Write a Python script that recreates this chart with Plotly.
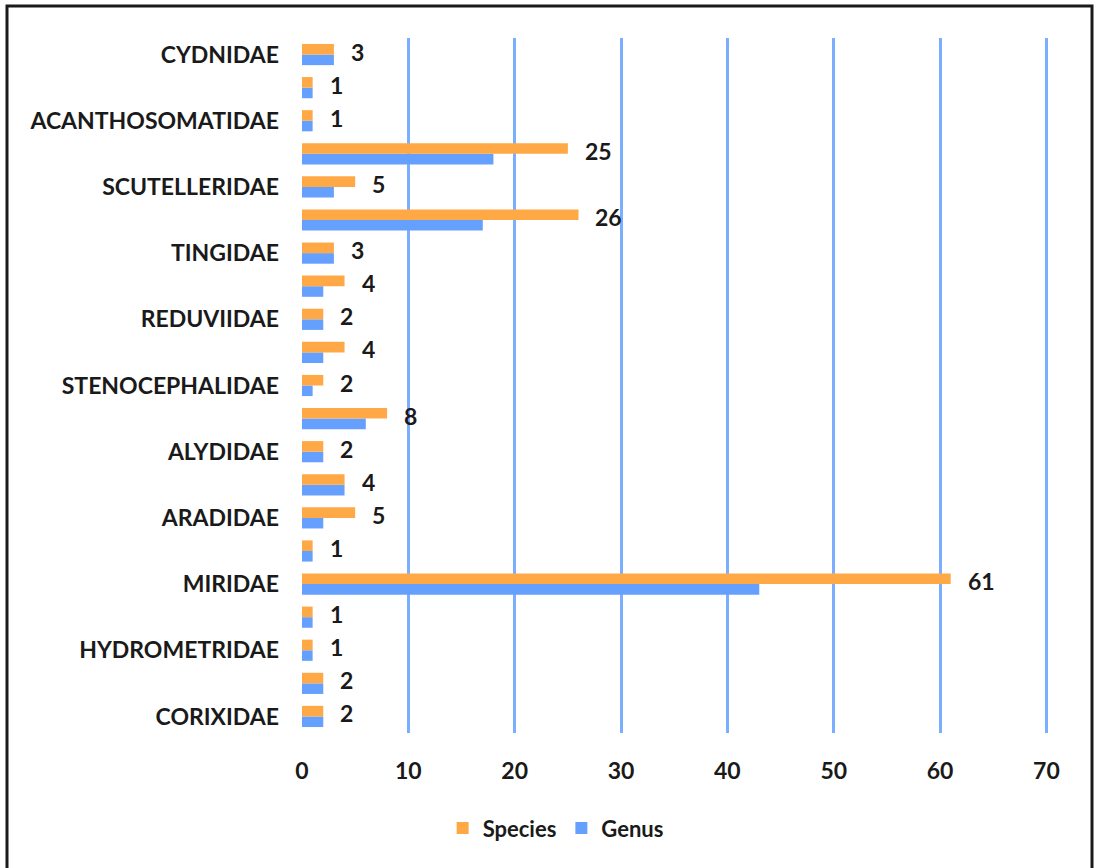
import plotly.graph_objects as go

# Categories from bottom (index 0) to top (index 20); only every other one is labelled in the reference
labels = ["CORIXIDAE", "", "HYDROMETRIDAE", "", "MIRIDAE", "", "ARADIDAE", "", "ALYDIDAE", "",
          "STENOCEPHALIDAE", "", "REDUVIIDAE", "", "TINGIDAE", "", "SCUTELLERIDAE", "",
          "ACANTHOSOMATIDAE", "", "CYDNIDAE"]
positions = list(range(len(labels)))
species = [2, 2, 1, 1, 61, 1, 5, 4, 2, 8, 2, 4, 2, 4, 3, 26, 5, 25, 1, 1, 3]
genus = [2, 2, 1, 1, 43, 1, 2, 4, 2, 6, 1, 2, 2, 2, 3, 17, 3, 18, 1, 1, 3]
x_ticks = [0, 10, 20, 30, 40, 50, 60, 70]

ORANGE = "#FFA846"
BLUE = "#66A0FF"
GRID = "#7AAEFF"
TEXT = "#1a1a1a"
FONT = "Lato"

fig = go.Figure()
fig.add_trace(go.Bar(y=positions, x=genus, orientation="h", name="<b>Genus</b>",
                     marker=dict(color=BLUE, line=dict(width=0))))
fig.add_trace(go.Bar(y=positions, x=species, orientation="h", name="<b>Species</b>",
                     marker=dict(color=ORANGE, line=dict(width=0))))

annotations = []
for p, v in zip(positions, species):
    annotations.append(dict(x=v, y=p, xref="x", yref="y", text=f"<b>{v}</b>",
                            showarrow=False, xanchor="left", yanchor="middle",
                            xshift=15, yshift=3,
                            font=dict(family=FONT, size=23, color=TEXT)))

tickvals = [p for p, l in zip(positions, labels) if l]
ticktext = [f"<b>{l}</b>" for l in labels if l]

L, R, T, B = 302, 46, 38, 135
PW = 1094 - L - R
PH = 868 - T - B

fig.update_layout(
    width=1094, height=868,
    margin=dict(l=L, r=R, t=T, b=B),
    paper_bgcolor="white", plot_bgcolor="white",
    barmode="group", bargap=0.36, bargroupgap=0,
    font=dict(family=FONT, size=23, color=TEXT),
    showlegend=True,
    legend=dict(orientation="h", x=0.34, y=-0.137, xanchor="center", yanchor="middle",
                traceorder="reversed", font=dict(family=FONT, size=22, color=TEXT),
                itemwidth=30, bgcolor="rgba(0,0,0,0)"),
    annotations=annotations,
    shapes=[dict(type="rect", xref="paper", yref="paper",
                 x0=(7 - L) / PW, x1=(1092 - L) / PW,
                 y0=((868 - B) - 875) / PH, y1=((868 - B) - 6) / PH,
                 line=dict(color="#1a1a1a", width=3), fillcolor="rgba(0,0,0,0)", layer="above")],
)

fig.update_xaxes(range=[0, 70.15], tickvals=x_ticks, ticktext=[f"<b>{t}</b>" for t in x_ticks],
                 showgrid=True, gridcolor=GRID, gridwidth=2.5,
                 zeroline=True, zerolinecolor="white", zerolinewidth=1,
                 showline=False, ticks="", ticklabelstandoff=22,
                 tickfont=dict(family=FONT, size=23, color=TEXT))
fig.update_yaxes(range=[-0.5, 20.5], tickvals=tickvals, ticktext=ticktext,
                 showgrid=False, zeroline=False, showline=False, ticks="",
                 ticklabelstandoff=22,
                 tickfont=dict(family=FONT, size=23, color=TEXT))

fig.write_html("out.html", config={"displayModeBar": False},
               post_script="document.body.style.margin='0';document.body.style.overflow='hidden';")
